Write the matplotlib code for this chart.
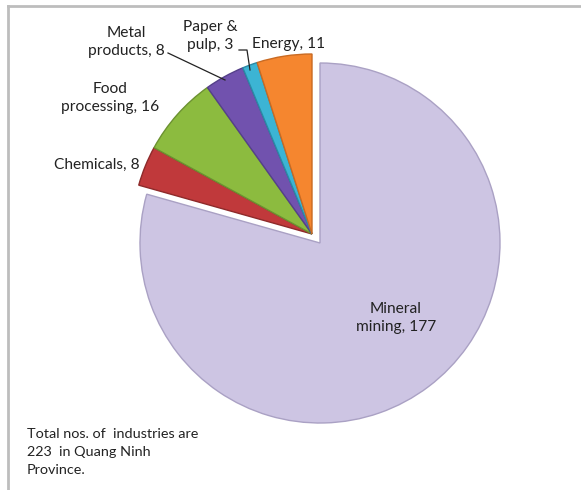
import matplotlib
matplotlib.use("Agg")
import matplotlib.pyplot as plt
from matplotlib.lines import Line2D
import numpy as np

categories = ["Mineral\nmining", "Chemicals", "Food\nprocessing", "Metal\nproducts", "Paper &\npulp", "Energy"]
values = [177, 8, 16, 8, 3, 11]
colors = ["#cdc5e3", "#c0393b", "#8cbb3f", "#7152ae", "#3cb4d4", "#f5862f"]
edge_colors = ["#aaa1c4", "#8e2a2a", "#6c9230", "#55408a", "#2a8aa6", "#c96a22"]
note = "Total nos. of  industries are\n223  in Quang Ninh\nProvince."

plt.rcParams['font.family'] = ['Lato', 'DejaVu Sans']

W, H = 581, 490
fig = plt.figure(figsize=(W / 100, H / 100), dpi=100)
ax = fig.add_axes([0, 0, 1, 1])

cx, cy = 320, H - 243
R = 180
wedges, _ = ax.pie(values, colors=colors, startangle=90, counterclock=False,
                   radius=R, center=(cx, cy), frame=True,
                   wedgeprops=dict(linewidth=1.0))
ax.set_xlim(0, W)
ax.set_ylim(0, H)
ax.axis('off')
for w, ec in zip(wedges, edge_colors):
    w.set_edgecolor(ec)

# shift the group of small slices up-left
shift = np.array([-8.0, 9.0])
for w in wedges[1:]:
    w.set_center((cx + shift[0], cy + shift[1]))

# labels (pixel coordinates from top)
label_pos = [(396, 318), (97, 165), (110, 98), (126, 42), (210, 36), (289, 44)]
for cat, val, (px, py) in zip(categories, values, label_pos):
    ax.text(px, H - py, f"{cat}, {val}", ha='center', va='center', fontsize=11.2,
            color='#222222', linespacing=1.38)

# leader lines
ax.add_line(Line2D([168, 225], [H - 53, H - 80], color='#222222', lw=0.9))
ax.add_line(Line2D([239, 247, 250], [H - 50, H - 50, H - 70], color='#222222', lw=0.9))

# note
ax.text(27, H - 452, note, ha='left', va='center', fontsize=10.4, color='#222222',
        linespacing=1.6)

# frame lines (top and left)
ax.add_line(Line2D([8, W], [H - 6, H - 6], color='#bdbdbd', lw=2))
ax.add_line(Line2D([8, 8], [H - 6, 0], color='#bdbdbd', lw=2))

fig.savefig("out.png", dpi=100)
